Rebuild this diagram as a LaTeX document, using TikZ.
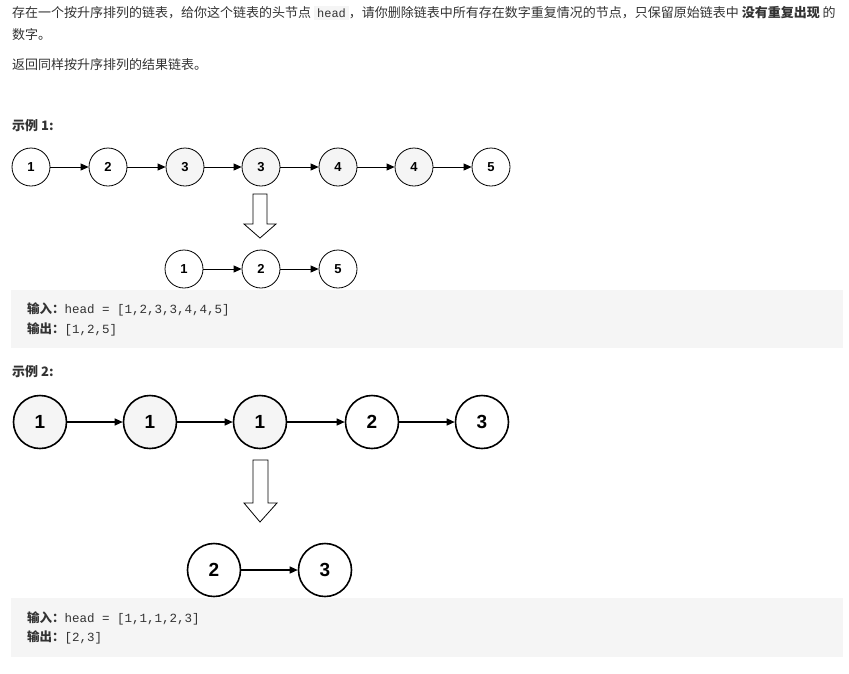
\documentclass[tikz,border=0pt]{standalone}
\usepackage{fontspec}
\setmainfont{Liberation Sans}
\newfontfamily\cjk{Noto Sans CJK SC}
\newfontfamily\monof{Liberation Mono}
\usetikzlibrary{arrows.meta}
\definecolor{gbg}{HTML}{F5F5F5}
\definecolor{txt}{HTML}{333333}
\tikzset{
 sn/.style={circle,draw=black,thick,minimum size=38pt,inner sep=0pt,font=\fontsize{13}{13}\selectfont\bfseries,text=black},
 bn/.style={circle,draw=black,line width=1.6pt,minimum size=53pt,inner sep=0pt,font=\fontsize{19}{19}\selectfont\bfseries,text=black},
 gr/.style={fill=gbg},
 ar/.style={-{Triangle[length=8pt,width=7pt]},thick},
 txtn/.style={anchor=west,inner sep=0pt,font=\cjk\fontsize{13}{13}\selectfont,text=txt},
 code/.style={anchor=west,inner sep=0pt,font=\fontsize{12.5}{12.5}\selectfont,text=txt},
 hollow/.style={draw=black,thick,fill=white}
}
\begin{document}
\begin{tikzpicture}[x=1pt,y=-1pt]
\useasboundingbox[fill=white] (0,0) rectangle (849,673);
\node[txtn] (t1) at (12,13) {存在一个按升序排列的链表，给你这个链表的头节点 {\monof\colorbox{gbg}{\fontsize{12}{12}\selectfont head}}，请你删除链表中所有存在数字重复情况的节点，只保留原始链表中 \textbf{没有重复出现} 的};
\node[txtn] (t2) at (12,35) {数字。};
\node[txtn] (t3) at (12,65) {返回同样按升序排列的结果链表。};
\node[txtn,font=\cjk\bfseries\fontsize{13}{13}\selectfont] (e1) at (12,126) {示例 1:};
\foreach \i/\x/\v/\g in {1/31/1/,2/108/2/,3/185/3/gr,4/261/3/gr,5/338/4/gr,6/414/4/gr,7/491/5/}
  \node[sn,\g] (a\i) at (\x,167) {\v};
\foreach \i/\j in {1/2,2/3,3/4,4/5,5/6,6/7} \draw[ar] (a\i) -- (a\j);
\draw[hollow] (253,194) -- (267,194) -- (267,224) -- (276,224) -- (260,238) -- (244,224) -- (253,224) -- cycle;
\foreach \i/\x/\v in {1/184/1,2/261/2,3/338/5} \node[sn] (b\i) at (\x,269) {\v};
\draw[ar] (b1) -- (b2); \draw[ar] (b2) -- (b3);
\fill[gbg] (11,290) rectangle (843,348);
\node[code] (c1) at (27,309) {{\cjk\bfseries 输入：}{\monof head = [1,2,3,3,4,4,5]}};
\node[code] (c2) at (27,329) {{\cjk\bfseries 输出：}{\monof [1,2,5]}};
\node[txtn,font=\cjk\bfseries\fontsize{13}{13}\selectfont] (e2) at (12,372) {示例 2:};
\foreach \i/\x/\v/\g in {1/40/1/gr,2/150/1/gr,3/260/1/gr,4/372/2/,5/482/3/}
  \node[bn,\g] (p\i) at (\x,422) {\v};
\foreach \i/\j in {1/2,2/3,3/4,4/5} \draw[ar,line width=1.2pt] (p\i) -- (p\j);
\draw[hollow] (253,460) -- (268,460) -- (268,503) -- (277,503) -- (260,522) -- (244,503) -- (253,503) -- cycle;
\node[bn] (q1) at (214,570) {2};
\node[bn] (q2) at (325,570) {3};
\draw[ar,line width=1.2pt] (q1) -- (q2);
\fill[gbg] (11,598) rectangle (843,657);
\node[code] (d1) at (27,618) {{\cjk\bfseries 输入：}{\monof head = [1,1,1,2,3]}};
\node[code] (d2) at (27,637) {{\cjk\bfseries 输出：}{\monof [2,3]}};
\end{tikzpicture}
\end{document}
